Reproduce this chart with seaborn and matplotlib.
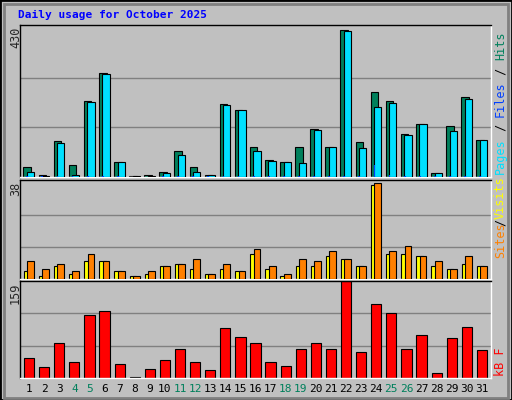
import numpy as np
import matplotlib
matplotlib.use("Agg")
import matplotlib.pyplot as plt
import seaborn as sns

days = list(range(1, 32))
weekend = [4, 5, 11, 12, 18, 19, 25, 26]

hits = [29, 6, 104, 34, 220, 301, 42, 3, 6, 14, 75, 29, 6, 211, 194, 87,
        49, 43, 87, 139, 87, 425, 101, 246, 220, 124, 153, 12, 147, 231, 107]
pages = [14, 4, 97, 6, 217, 298, 42, 3, 3, 11, 63, 14, 6, 208, 194, 75,
         46, 43, 40, 136, 87, 422, 84, 202, 214, 121, 153, 12, 133, 226, 107]
files = [3, 2, 3, 3, 3, 3, 2, 1, 1, 3, 4, 3, 2, 3, 3, 4,
         3, 2, 4, 3, 4, 3, 3, 35, 6, 4, 4, 2, 3, 2, 3]
sites = [3, 1, 5, 2, 7, 7, 3, 1, 2, 5, 6, 4, 2, 4, 3, 10,
         4, 1, 5, 5, 9, 8, 5, 37, 10, 10, 9, 5, 4, 6, 5]
visits = [7, 4, 6, 3, 10, 7, 3, 1, 3, 5, 6, 8, 2, 6, 3, 12,
          5, 2, 8, 7, 11, 8, 5, 38, 11, 13, 9, 7, 4, 9, 5]
kbytes = [32, 18, 58, 27, 103, 110, 23, 2, 15, 30, 48, 27, 13, 82, 67, 58,
          27, 20, 48, 58, 48, 159, 42, 122, 107, 48, 70, 9, 65, 84, 46]

sns.set_style("white")
plt.rcParams['font.family'] = ['DejaVu Sans Mono']

W, H = 512, 400
fig = plt.figure(figsize=(W / 100, H / 100), dpi=100)
fig.patch.set_facecolor("#C0C0C0")
# bevelled border
fig.add_artist(plt.Rectangle((0, 0), 1, 1, transform=fig.transFigure,
                             fill=False, edgecolor="black", lw=2))
fig.add_artist(plt.Rectangle((4 / W, 2 / H), 1 - 8 / W, 1 - 6 / H, transform=fig.transFigure,
                             fill=False, edgecolor="#808080", lw=2))

def mkax(top, bottom):
    ax = fig.add_axes([20 / W, 1 - bottom / H, 471 / W, (bottom - top) / H])
    ax.set_facecolor("#C0C0C0")
    for s in ax.spines.values():
        s.set_color("black")
        s.set_linewidth(1)
    ax.spines['bottom'].set_color("white")
    ax.spines['right'].set_color("white")
    ax.set_xlim(0.4, 31.6)
    ax.set_xticks([])
    ax.set_yticks([])
    return ax

def maxlabel(txt, top):
    fig.text(9 / W, 1 - (top + 2) / H, txt, rotation=90, ha="left", va="top", fontsize=8.5)

def side(parts, bottom, step=7.1):
    y = bottom
    for txt, col in parts:
        fig.text(494 / W, 1 - y / H, txt, rotation=90, ha="left", va="bottom",
                 fontsize=8.5, color=col)
        y -= len(txt) * step

x = np.array(days)

ax1 = mkax(25, 177)
ax1.set_ylim(0, 440)
for g in [430 / 3, 2 * 430 / 3]:
    ax1.axhline(g, color="#808080", lw=1, zorder=0)
ax1.bar(x - 0.12, hits, width=0.5, color="#00805C", edgecolor="black", lw=0.8, zorder=2)
ax1.bar(x + 0.1, pages, width=0.48, color="#00E0FF", edgecolor="black", lw=0.8, zorder=3)
ax1.bar(x - 0.12, files, width=0.12, color="#0040FF", lw=0, zorder=4)
maxlabel("430", 25)

ax2 = mkax(180, 279)
ax2.set_ylim(0, 39)
for g in [38 / 3, 2 * 38 / 3]:
    ax2.axhline(g, color="#808080", lw=1, zorder=0)
ax2.bar(x - 0.12, sites, width=0.45, color="#FFFF00", edgecolor="black", lw=0.8, zorder=2)
ax2.bar(x + 0.1, visits, width=0.45, color="#FF8000", edgecolor="black", lw=0.8, zorder=3)
maxlabel("38", 180)

ax3 = mkax(281, 378)
ax3.set_ylim(0, 159)
for g in [159 / 3, 2 * 159 / 3]:
    ax3.axhline(g, color="#808080", lw=1, zorder=0)
ax3.bar(x, kbytes, width=0.68, color="#FF0000", edgecolor="black", lw=0.8, zorder=2)
maxlabel("159", 281)
ax3.set_xticks(days)
ax3.set_xticklabels([str(d) for d in days], fontsize=8)
ax3.tick_params(axis="x", length=0, pad=4)
for lab, d in zip(ax3.get_xticklabels(), days):
    lab.set_color("#00805C" if d in weekend else "black")

fig.text(18 / W, 1 - 15 / H, "Daily usage for October 2025", color="#0000FF",
         fontsize=8, fontweight="bold", va="center", ha="left")

side([("Pages", "#00E0FF"), (" / ", "black"), ("Files", "#0040FF"),
      (" / ", "black"), ("Hits", "#00805C")], 174)
side([("Sites", "#FF8000"), ("/", "black"), ("Visits", "#FFFF00")], 258, step=6.5)
side([("kB F", "#FF0000")], 376)

fig.savefig("out.png", dpi=100, facecolor=fig.get_facecolor())
